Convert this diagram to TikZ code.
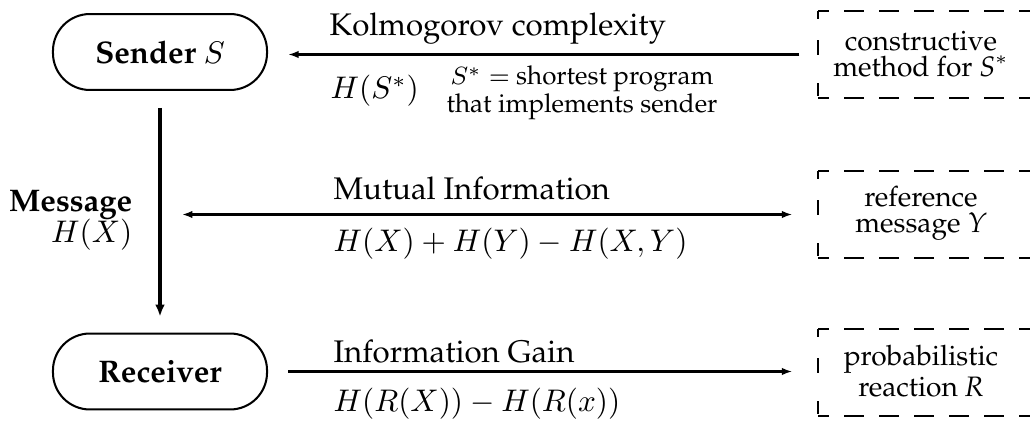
\documentclass[tikz,border=0pt]{standalone}
\usepackage[T1]{fontenc}
\usepackage{palatino}
\usetikzlibrary{arrows.meta}
\begin{document}
\begin{tikzpicture}[x=0.32pt,y=-0.32pt,
  stadium/.style={draw, line width=0.65pt, rounded corners=11.8pt, minimum width=68.5pt, minimum height=24.3pt, inner sep=0pt},
  lbl/.style={inner sep=0pt, anchor=west},
  rlbl/.style={inner sep=0pt, anchor=east},
  btxt/.style={inner sep=0pt, align=center, font=\fontsize{9}{8.4}\selectfont},
  boxarea/.style={draw=none, minimum width=83.2pt, minimum height=27.2pt, inner sep=0pt},
  dtop/.style={line width=0.7pt, line cap=butt, dash pattern=on 6.4pt off 4.8pt, dash phase=2.9pt},
  dleft/.style={line width=0.7pt, line cap=butt, dash pattern=on 2.9pt off 6.7pt on 4.8pt off 9pt on 4pt off 20pt, dash phase=0.35pt},
  harrow/.style={line width=0.65pt, -{Latex[length=3.4pt,width=2.4pt]}},
  darrow/.style={line width=0.65pt, {Latex[length=3.4pt,width=2.4pt]}-{Latex[length=3.4pt,width=2.4pt]}},
  varrow/.style={line width=1pt, -{Latex[length=3.8pt,width=3.1pt]}}
]
\clip (0,0) rectangle (1030,421);

\node[stadium] (snd) at (160,52) {\textbf{Sender} $S$};
\node[stadium] (rcv) at (160,371.5) {\textbf{Receiver}};

\node[boxarea] (b1) at (949,54.5) {};
\node[boxarea] (b2) at (949,214.5) {};
\node[boxarea] (b3) at (949,372.5) {};

\foreach \b in {b1,b2,b3}{
  \draw[dtop] (\b.north west) -- (\b.north east);
  \draw[dtop] (\b.south west) -- (\b.south east);
  \draw[dleft] (\b.north west) -- (\b.south west);
}

\node[btxt] (t1) at (921,54) {constructive\\method for \textit{S}$^{*}$};
\node[btxt] (t2) at (921,213) {reference\\message \textit{Y}};
\node[btxt] (t3) at (921,371) {probabilistic\\reaction \textit{R}};

\node[rlbl] (msg) at (133,205) {\textbf{Message}};
\node[rlbl] (hx) at (133,235) {$H(X)$};

\node[lbl] (kc) at (329,29) {Kolmogorov complexity};
\node[lbl] (hs) at (330,91) {$H(S^*)$};
\node[inner sep=0pt, anchor=west, font=\fontsize{8.3}{8.8}\selectfont, align=center] (sp) at (446,93) {$S^* =$ shortest program\\that implements sender};

\node[lbl] (mi) at (333,189) {Mutual Information};
\node[lbl] (mif) at (333,244) {$H(X)+H(Y)-H(X,Y)$};

\node[lbl] (ig) at (333,352) {Information Gain};
\node[lbl] (igf) at (333,404) {$H(R(X))-H(R(x))$};

\draw[varrow, shorten <=5.4pt, shorten >=5.1pt] (snd.south) -- (rcv.north);
\coordinate (vm) at (snd.south |- b2.west);
\draw[harrow, shorten <=6.1pt, shorten >=6.4pt] (b1.west) -- (b1.west -| snd.east);
\draw[darrow, shorten <=7pt, shorten >=8.3pt] (vm) -- (b2.west);
\draw[harrow, shorten <=6.4pt, shorten >=8.3pt] (rcv.east) -- (rcv.east -| b3.west);
\end{tikzpicture}
\end{document}
